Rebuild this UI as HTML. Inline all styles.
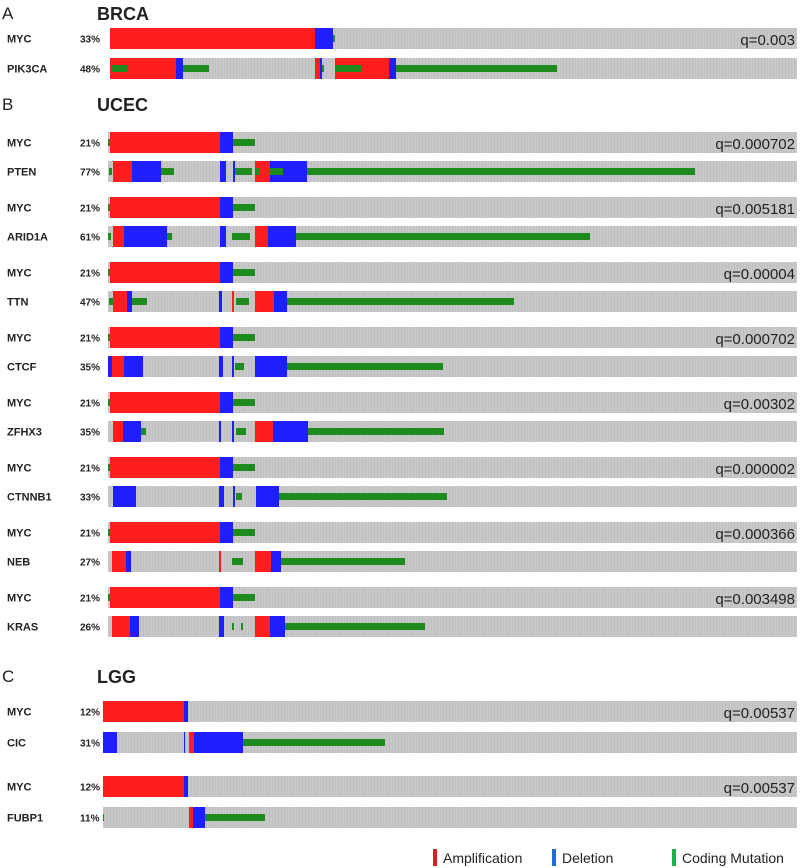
<!DOCTYPE html>
<html><head><meta charset="utf-8">
<style>
body{margin:0;background:#fff;}
svg{display:block;font-family:"Liberation Sans",Arial,sans-serif;}
</style></head>
<body>
<svg id="chart" width="800" height="868"></svg>
<script>
const panelNames = ["BRCA","UCEC","LGG"];
const panelLetters = ["A","B","C"];
const rowGenes = ["MYC","PIK3CA","MYC","PTEN","MYC","ARID1A","MYC","TTN","MYC","CTCF","MYC","ZFHX3","MYC","CTNNB1","MYC","NEB","MYC","KRAS","MYC","CIC","MYC","FUBP1"];
const rowPercents = ["33%","48%","21%","77%","21%","61%","21%","47%","21%","35%","21%","35%","21%","33%","21%","27%","21%","26%","12%","31%","12%","11%"];
const rowPanel = [0,0,1,1,1,1,1,1,1,1,1,1,1,1,1,1,1,1,2,2,2,2];
const rowQ = ["q=0.003","","q=0.000702","","q=0.005181","","q=0.00004","","q=0.000702","","q=0.00302","","q=0.000002","","q=0.000366","","q=0.003498","","q=0.00537","","q=0.00537",""];
// segments in sample index units: [start, end, type] A=amp D=del M=mutation
const mycUcec = [[0,2,"M"],[2,112,"A"],[112,125,"D"],[125,147,"M"]];
const mycLgg = [[0,81,"A"],[81,85,"D"]];
const rowSegments = [
 [[0,205,"A"],[205,223,"D"],[223,225,"M"]],
 [[0,66,"A"],[2,18,"M"],[66,73,"D"],[73,99,"M"],[205,210,"A"],[210,212,"D"],[212,214,"M"],[225,279,"A"],[225,252,"M"],[279,286,"D"],[286,447,"M"]],
 mycUcec,
 [[1,4,"M"],[5,24,"A"],[24,53,"D"],[53,66,"M"],[112,118,"D"],[125,127,"D"],[127,144,"M"],[147,152,"M"],[147,162,"A"],[162,175,"M"],[162,199,"D"],[199,587,"M"]],
 mycUcec,
 [[0,3,"M"],[5,16,"A"],[16,59,"D"],[59,64,"M"],[112,118,"D"],[124,142,"M"],[147,160,"A"],[160,188,"D"],[188,482,"M"]],
 mycUcec,
 [[1,5,"M"],[5,19,"A"],[19,24,"D"],[24,39,"M"],[111,114,"D"],[124,126,"A"],[128,141,"M"],[147,166,"A"],[166,179,"D"],[179,406,"M"]],
 mycUcec,
 [[0,4,"D"],[4,16,"A"],[16,35,"D"],[111,115,"D"],[124,126,"D"],[127,136,"M"],[147,149,"D"],[149,179,"D"],[179,335,"M"]],
 mycUcec,
 [[5,15,"A"],[15,33,"D"],[33,38,"M"],[111,113,"D"],[124,126,"D"],[128,138,"M"],[147,165,"A"],[165,200,"D"],[200,336,"M"]],
 mycUcec,
 [[5,8,"D"],[8,28,"D"],[111,116,"D"],[125,127,"D"],[128,134,"M"],[148,150,"D"],[150,171,"D"],[171,339,"M"]],
 mycUcec,
 [[4,18,"A"],[18,23,"D"],[111,113,"A"],[124,135,"M"],[147,163,"A"],[163,173,"D"],[173,297,"M"]],
 mycUcec,
 [[4,22,"A"],[22,31,"D"],[111,116,"D"],[124,126,"M"],[133,135,"M"],[147,162,"A"],[162,177,"D"],[177,317,"M"]],
 mycLgg,
 [[0,14,"D"],[81,82,"D"],[86,91,"A"],[91,140,"D"],[140,282,"M"]],
 mycLgg,
 [[0,1,"M"],[86,90,"A"],[90,102,"D"],[102,162,"M"]]
];

const NS="http://www.w3.org/2000/svg";
const svg=document.getElementById('chart');
function mk(tag,attrs,parent){const e=document.createElementNS(NS,tag);for(const k in attrs)e.setAttribute(k,attrs[k]);(parent||svg).appendChild(e);return e;}

const panelTitleY=[14,105,677];
const panelX0=[110,108,103];
const barRight=797;
const rowTop=[28,58,132,161,197,226,262,291,327,356,392,421,457,486,522,551,587,616,701,732,776,807];
const rowH=21;
const colors={A:"#ff1e1e",D:"#1e1eff",M:"#1f8a1f"};
const typeOrder={A:0,D:1,M:2};
function xScale(p,s){return panelX0[p]+s;}

const defs=mk('defs',{});
const pat=mk('pattern',{id:'stripe',width:3,height:10,patternUnits:'userSpaceOnUse'},defs);
mk('rect',{width:3,height:10,fill:'#c8c8c8'},pat);
mk('rect',{x:2,width:1,height:10,fill:'#bfbfbf'},pat);

panelNames.forEach((n,i)=>{
  const l=mk('text',{x:2,y:panelTitleY[i]+5,'font-size':17,fill:'#222'});
  l.textContent=panelLetters[i];
  
  
  const t=mk('text',{x:97,y:panelTitleY[i]+6,'font-size':18,'font-weight':'bold',fill:'#222'});
  t.textContent=n;
  
  
});

rowGenes.forEach((g,r)=>{
  const p=rowPanel[r], y=rowTop[r];
  const grp=mk('g',{});
  
  
  const gl=mk('text',{x:7,y:y+14.5,'font-size':11,'font-weight':'bold',fill:'#222'},grp);
  gl.textContent=g;
  
  
  const pl=mk('text',{x:80,y:y+14.5,'font-size':10,'font-weight':'bold',fill:'#222'},grp);
  pl.textContent=rowPercents[r];
  
  
  const bg=mk('rect',{x:panelX0[p],y:y,width:barRight-panelX0[p],height:rowH,fill:'url(#stripe)'},grp);
  
  
  const segs=(rowSegments[r]||[]).slice().sort((a,b)=>typeOrder[a[2]]-typeOrder[b[2]]);
  segs.forEach(s=>{
    const x1=xScale(p,s[0]), x2=xScale(p,s[1]);
    const isM=s[2]==="M";
    const rc=mk('rect',{x:x1,y:isM?y+7:y,width:Math.max(1,x2-x1),height:isM?7:rowH,fill:colors[s[2]]},grp);
    
    
  });
  if(rowQ[r]){
    const q=mk('text',{x:795,y:y+17,'font-size':15,'text-anchor':'end',fill:'#222'},grp);
    q.textContent=rowQ[r];
    
    
  }
});

const legendLabels=["Amplification","Deletion","Coding Mutation"];
const legendColors=["#e01e1e","#1e6fd0","#1fb04a"];
const legendX=[433,552,672];
legendLabels.forEach((lab,i)=>{
  const g=mk('g',{});
  
  
  mk('rect',{x:legendX[i],y:849,width:4,height:17,fill:legendColors[i]},g);
  const t=mk('text',{x:legendX[i]+10,y:863,'font-size':14,fill:'#222'},g);
  t.textContent=lab;
});
</script>
</body></html>
